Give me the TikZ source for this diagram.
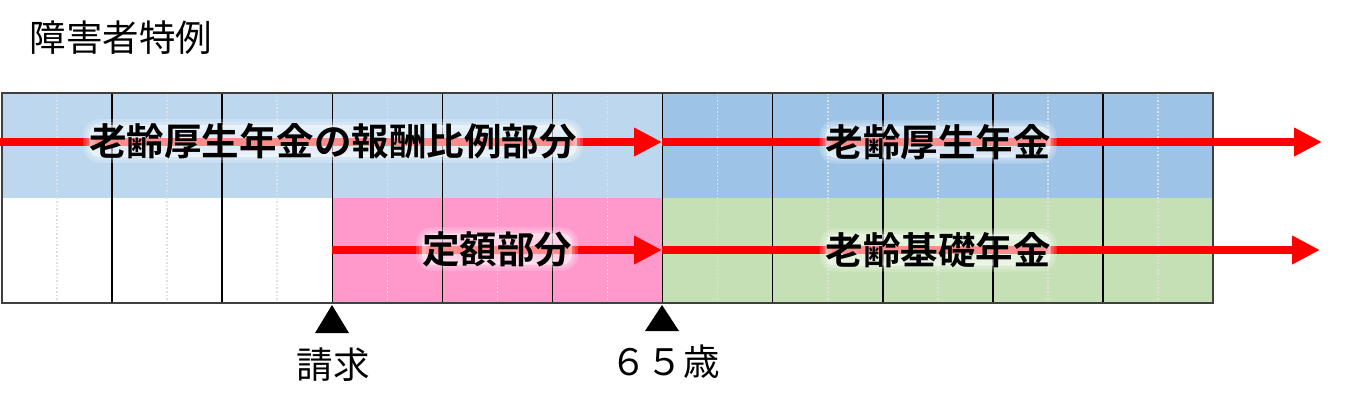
\documentclass[tikz,border=0pt]{standalone}
\usepackage{fontspec}
\setmainfont{Noto Sans CJK JP}
\newfontfamily\jpbold{Noto Sans CJK JP Bold}
\usetikzlibrary{arrows.meta}
\definecolor{paleblue}{HTML}{BDD7EE}
\definecolor{midblue}{HTML}{9DC3E6}
\definecolor{pinkcell}{HTML}{FF99CC}
\definecolor{greencell}{HTML}{C5E0B4}
\tikzset{x=1pt,y=-1pt,
         frame/.style={draw=black!75,line width=1.8pt},
         column/.style={draw=black,line width=1.5pt},
         guide/.style={draw=black!12,line width=1.6pt,dotted},
         pension/.style={draw=red,line width=8pt,-{Triangle[length=28pt,width=27pt]}},
         % soft white glow behind the labels
         plan/.style={font=\jpbold\fontsize{37.5}{40}\selectfont,inner xsep=0pt,inner ysep=-2pt,
                      rounded corners=10pt,
                      preaction={fill=white,fill opacity=0.2,draw=white,draw opacity=0.2,line width=12pt},
                      preaction={fill=white,fill opacity=0.2,draw=white,draw opacity=0.2,line width=6pt},
                      fill=white,fill opacity=0.3,text opacity=1},
         note/.style={font=\fontsize{36.5}{40}\selectfont,inner sep=0pt}}

\begin{document}
\begin{tikzpicture}
\useasboundingbox (0,0) rectangle (1350,413);
% cells
\fill[paleblue] (2,93) rectangle (662,198);
\fill[midblue] (662,93) rectangle (1213,198);
\fill[pinkcell] (332,198) rectangle (662,303);
\fill[greencell] (662,198) rectangle (1213,303);
\foreach \x in {0,...,10}
  \draw[guide] ({57+110.1*\x},93) -- ({57+110.1*\x},303);
\foreach \x in {1,...,10}
  \draw[column] ({2+110.1*\x},93) -- ({2+110.1*\x},303);
\draw[frame] (2,93) rectangle (1213,303);
% arrows
\coordinate (r0) at (0,142);
\coordinate (r1) at (662,142);
\coordinate (r2) at (1322,142);
\coordinate (k0) at (332,250);
\coordinate (k1) at (662,250);
\coordinate (k2) at (1320,250);
\draw[pension] (r0) -- (r1);
\draw[pension] (r1) -- (r2);
\draw[pension] (k0) -- (k1);
\draw[pension] (k1) -- (k2);
\node[plan] (hirei) at (333,141) {老齢厚生年金の報酬比例部分};
\node[plan] (kosei) at (938,142) {老齢厚生年金};
\node[plan] (teigaku) at (497,249) {定額部分};
\node[plan] (kiso) at (938,250) {老齢基礎年金};
% marks
\node[note] (title) at (121,38) {障害者特例};
\fill (332,305) -- +(17,28) -- +(-17,28) -- cycle;
\fill (662,305) -- +(17,26) -- +(-17,26) -- cycle;
\node[note] (seikyu) at (333,365) {請求};
\node[note] (age) at (665,362) {６５歳};
\end{tikzpicture}
\end{document}
